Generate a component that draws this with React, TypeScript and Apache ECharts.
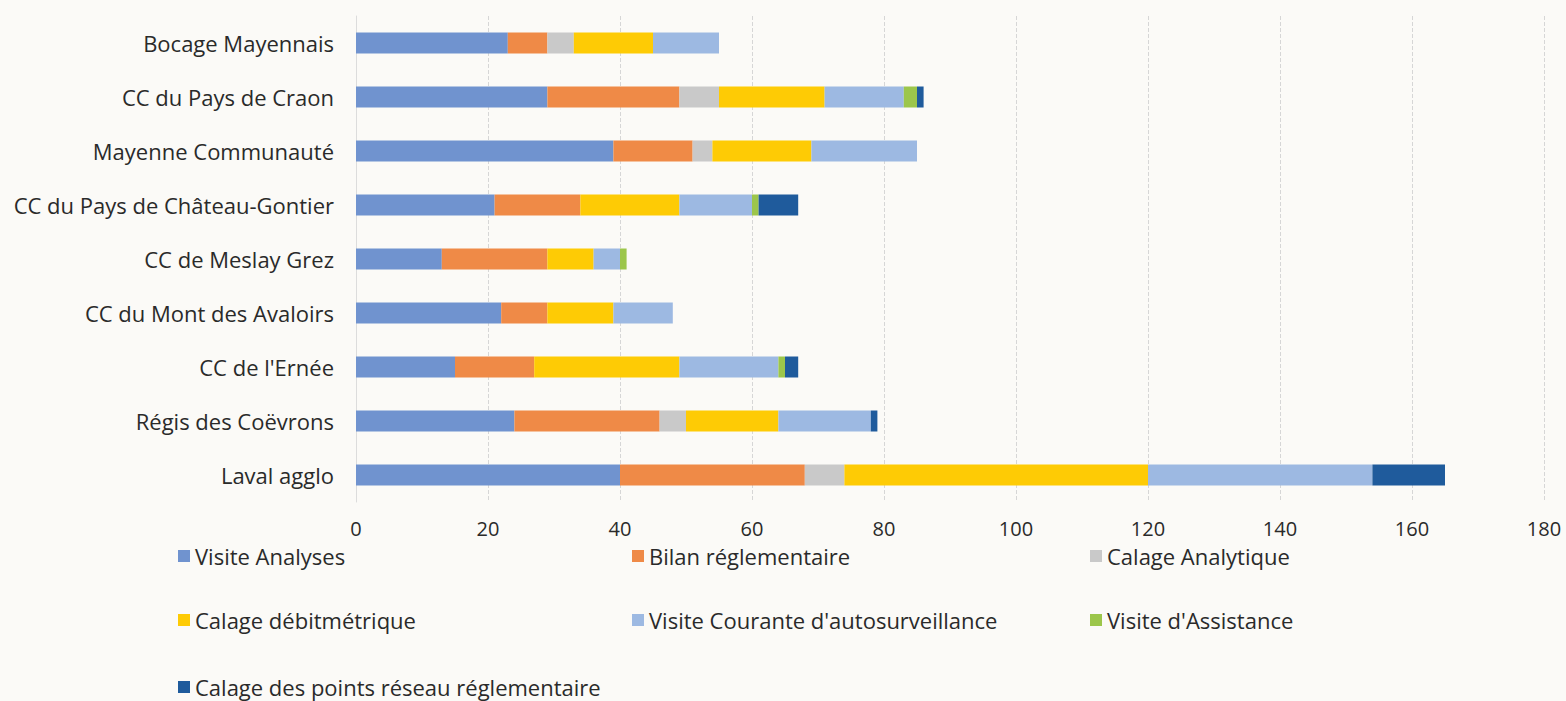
import React, { useEffect, useRef } from "react";
import * as echarts from "echarts";

const categories = [
  "Bocage Mayennais",
  "CC du Pays de Craon",
  "Mayenne Communauté",
  "CC du Pays de Château-Gontier",
  "CC de Meslay Grez",
  "CC du Mont des Avaloirs",
  "CC de l'Ernée",
  "Régis des Coëvrons",
  "Laval agglo",
];

const seriesNames = [
  "Visite Analyses",
  "Bilan réglementaire",
  "Calage Analytique",
  "Calage débitmétrique",
  "Visite Courante d'autosurveillance",
  "Visite d'Assistance",
  "Calage des points réseau réglementaire",
];

const visiteAnalyses = [23, 29, 39, 21, 13, 22, 15, 24, 40];
const bilanReglementaire = [6, 20, 12, 13, 16, 7, 12, 22, 28];
const calageAnalytique = [4, 6, 3, 0, 0, 0, 0, 4, 6];
const calageDebitmetrique = [12, 16, 15, 15, 7, 10, 22, 14, 46];
const visiteCourante = [10, 12, 16, 11, 4, 9, 15, 14, 34];
const visiteAssistance = [0, 2, 0, 1, 1, 0, 1, 0, 0];
const calagePoints = [0, 1, 0, 6, 0, 0, 2, 1, 11];

const xTicks = [0, 20, 40, 60, 80, 100, 120, 140, 160, 180];

const colors = ["#7093cf", "#ef8a47", "#c9c9c9", "#fecb05", "#9db9e2", "#9cc64b", "#1f5b9c"];

const legendPos = [
  { left: 178, top: 545 },
  { left: 632, top: 545 },
  { left: 1090, top: 545 },
  { left: 178, top: 609 },
  { left: 632, top: 609 },
  { left: 1090, top: 609 },
  { left: 178, top: 676 },
];

export default function App() {
  const ref = useRef<HTMLDivElement>(null);
  useEffect(() => {
    document.body.style.margin = "0";
    const chart = echarts.init(ref.current!, null, { renderer: "svg" });
    const dataSets = [
      visiteAnalyses,
      bilanReglementaire,
      calageAnalytique,
      calageDebitmetrique,
      visiteCourante,
      visiteAssistance,
      calagePoints,
    ];
    const font = "Open Sans, Noto Sans, sans-serif";
    chart.setOption({
      animation: false,
      backgroundColor: "#fbfaf7",
      color: colors,
      grid: { left: 356, right: 22, top: 16, bottom: 199, containLabel: false },
      legend: seriesNames.map((n, i) => ({
        data: [n],
        left: legendPos[i].left,
        top: legendPos[i].top,
        padding: 0,
        itemWidth: 12,
        itemHeight: 12,
        itemGap: 4,
        icon: "rect",
        textStyle: { fontSize: 22, lineHeight: 22, color: "#2a2a2a", fontFamily: font },
      })),
      xAxis: {
        type: "value",
        min: xTicks[0],
        max: xTicks[xTicks.length - 1],
        interval: 20,
        axisLabel: { fontSize: 20, color: "#2a2a2a", margin: 16, fontFamily: font },
        splitLine: { show: true, lineStyle: { type: "dashed", color: "#d6d6d6" } },
        axisLine: { show: false },
        axisTick: { show: false },
      },
      yAxis: {
        type: "category",
        data: categories,
        inverse: true,
        axisLabel: { fontSize: 22, color: "#2a2a2a", margin: 22, fontFamily: font },
        axisLine: { show: true, lineStyle: { color: "#dcdcdc" } },
        axisTick: { show: false },
      },
      series: seriesNames.map((n, i) => ({
        name: n,
        type: "bar",
        stack: "total",
        barWidth: 21,
        data: dataSets[i],
        itemStyle: { color: colors[i] },
      })),
    });
    return () => chart.dispose();
  }, []);
  return <div ref={ref} style={{ width: 1566, height: 701 }} />;
}
